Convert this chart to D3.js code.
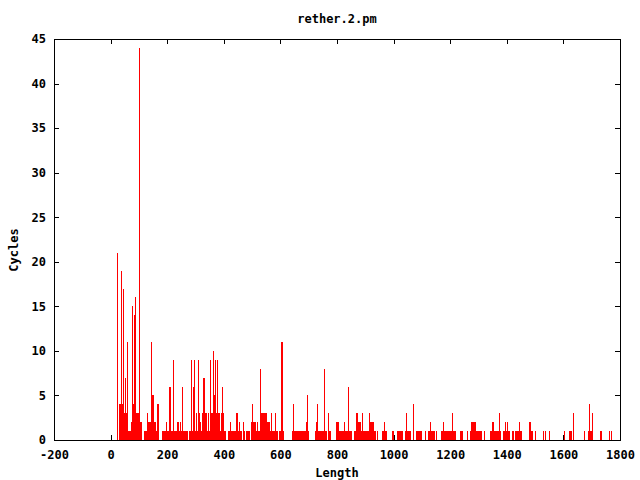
<!DOCTYPE html>
<html>
<head>
<meta charset="utf-8">
<script src="https://cdn.jsdelivr.net/npm/d3@7"></script>
<style>
  body { margin: 0; background: #fff; }
  svg { display: block; }
  text { font-family: "DejaVu Sans Mono", monospace; font-weight: bold; font-size: 12px; fill: #000; }
</style>
</head>
<body>
<div id="chart"></div>
<script>
// Data: message length and cycles.
var lengths = [
  23, 30, 33, 37, 40, 44, 47, 51, 54, 58, 62, 65, 69, 72, 76, 79, 83, 86, 90, 93, 97, 100, 104, 107,
  118, 122, 125, 129, 132, 136, 139, 143, 146, 150, 153, 157, 160, 164, 168,
  182, 185, 189, 192, 196, 199, 203, 206, 210, 214, 217, 221, 224, 228, 231, 235, 238, 242, 245, 249,
  252, 256, 260, 263, 267, 270, 277, 281, 284, 288, 291, 295, 298, 302, 305, 309, 313, 316, 320, 323,
  327, 330, 334, 337, 341, 344, 348, 351, 355, 358, 362, 366, 369, 373, 376, 380, 383, 387, 390, 394,
  397, 401, 404, 415, 419, 422, 426, 429, 433, 436, 440, 443, 447, 450, 454, 457, 461, 468, 472,
  479, 482, 486, 489, 496, 500, 503, 507, 510, 514, 518, 521, 525, 528, 532, 535, 539, 542, 546, 549,
  553, 556, 560, 563, 567, 571, 574, 578, 581, 585, 588, 595, 599, 602, 606, 609,
  641, 645, 648, 652, 655, 659, 662, 666, 670, 673, 677, 680, 684, 687, 691, 694, 698,
  723, 726, 730, 733, 737, 740, 744, 747, 751, 754, 758, 761, 769, 772, 776,
  797, 800, 804, 807, 811, 815, 818, 822, 825, 829, 832, 836, 839, 843, 846, 850,
  860, 864, 868, 871, 875, 878, 882, 885, 889, 892, 896, 899, 903, 906, 910, 913, 917, 921, 924, 928,
  931, 935, 942, 959, 963, 966, 970, 974, 995, 998,
  1012, 1016, 1020, 1023, 1027, 1030, 1041, 1044, 1048, 1051, 1055, 1058, 1069,
  1080, 1083, 1087, 1090, 1094, 1097, 1111, 1122, 1126, 1129, 1133, 1136, 1140, 1143, 1150,
  1168, 1171, 1175, 1179, 1182, 1186, 1189, 1193, 1196, 1200, 1203, 1207, 1210, 1214, 1217,
  1235, 1239, 1242, 1260, 1270, 1274, 1278, 1281, 1285, 1288, 1292, 1295, 1299, 1302, 1306, 1309, 1320,
  1341, 1345, 1348, 1352, 1355, 1359, 1362, 1366, 1369, 1373, 1376,
  1387, 1391, 1394, 1398, 1401, 1405, 1408, 1419, 1422, 1430, 1433, 1437, 1440, 1444, 1447, 1451,
  1479, 1483, 1486, 1490, 1500, 1528, 1536, 1550,
  1603, 1620, 1624, 1627, 1634, 1673, 1688, 1691, 1695, 1698, 1702, 1730, 1733, 1762, 1769
];
var cycles = [
  21, 4, 4, 19, 4, 17, 3, 7, 3, 11, 1, 1, 1, 2, 15, 4, 14, 16, 3, 3, 3, 44, 2, 2,
  1, 1, 1, 3, 2, 2, 2, 11, 5, 5, 2, 2, 1, 4, 4,
  1, 1, 1, 1, 2, 1, 1, 6, 6, 1, 1, 9, 1, 1, 1, 2, 2, 1, 2, 1,
  6, 1, 1, 1, 1, 1, 1, 1, 9, 1, 6, 9, 1, 3, 1, 9, 3, 2, 1, 3,
  7, 7, 3, 3, 1, 3, 1, 9, 3, 3, 10, 5, 9, 3, 9, 3, 3, 1, 3, 6,
  3, 1, 1, 1, 1, 2, 1, 1, 1, 1, 1, 3, 3, 1, 2, 1, 1, 2, 1,
  1, 1, 1, 1, 2, 4, 2, 2, 2, 1, 2, 1, 1, 8, 3, 3, 3, 3, 3, 3,
  2, 2, 2, 1, 3, 1, 1, 1, 3, 1, 1, 1, 1, 11, 11, 1,
  1, 4, 1, 1, 1, 1, 1, 1, 1, 1, 1, 1, 1, 1, 2, 5, 1,
  1, 2, 4, 1, 1, 1, 1, 1, 1, 8, 1, 1, 3, 1, 1,
  2, 2, 2, 1, 1, 1, 1, 1, 2, 1, 1, 1, 6, 1, 1, 1,
  1, 1, 3, 3, 2, 2, 2, 1, 3, 1, 1, 1, 1, 1, 1, 3, 2, 2, 2, 2,
  1, 1, 1, 1, 1, 2, 1, 1, 1, 1,
  1, 1, 1, 1, 1, 1, 1, 3, 1, 1, 1, 1, 4,
  1, 1, 1, 1, 1, 1, 1, 1, 1, 2, 1, 1, 1, 1, 1,
  1, 1, 2, 1, 1, 1, 1, 1, 1, 1, 1, 3, 1, 1, 1,
  1, 1, 1, 1, 1, 2, 2, 2, 2, 2, 1, 1, 1, 1, 1, 1, 1,
  1, 1, 2, 2, 1, 1, 1, 1, 1, 3, 1,
  1, 1, 2, 1, 2, 1, 1, 1, 1, 1, 1, 1, 1, 2, 1, 1,
  2, 2, 1, 1, 1, 1, 1, 1,
  1, 1, 1, 1, 3, 1, 1, 4, 1, 1, 3, 1, 1, 1, 1
];
var xTicks = [-200, 0, 200, 400, 600, 800, 1000, 1200, 1400, 1600, 1800];
var yTicks = [0, 5, 10, 15, 20, 25, 30, 35, 40, 45];

var svgWidth = 640,
    svgHeight = 480,
    plotLeft = 54,
    plotRight = 620,
    plotTop = 39,
    plotBottom = 440,
    tickLength = 5;

var data = [];
for (i = 0; i < lengths.length; i++)
  data.push([lengths[i], cycles[i]]);

var x = d3.scaleLinear().domain([-200, 1800]).range([plotLeft, plotRight]);
var y = d3.scaleLinear().domain([0, 45]).range([plotBottom, plotTop]);
var plain = function(d){ return "" + d; };

// SVG.
var svg = d3.select("#chart").append("svg")
  .attr("width", svgWidth)
  .attr("height", svgHeight);

// TICKS (all four sides, pointing in).
svg.append("g")
  .attr("transform", "translate(0," + plotBottom + ")")
  .call(d3.axisBottom(x).tickValues(xTicks).tickSize(-tickLength).tickPadding(10).tickFormat(plain))
  .call(function(g){ g.select(".domain").remove(); });
svg.append("g")
  .attr("transform", "translate(0," + plotTop + ")")
  .call(d3.axisTop(x).tickValues(xTicks).tickSize(-tickLength).tickFormat(""))
  .call(function(g){ g.select(".domain").remove(); });
svg.append("g")
  .attr("transform", "translate(" + plotLeft + ",0)")
  .call(d3.axisLeft(y).tickValues(yTicks).tickSize(-tickLength).tickPadding(8).tickFormat(plain))
  .call(function(g){ g.select(".domain").remove(); });
svg.append("g")
  .attr("transform", "translate(" + plotRight + ",0)")
  .call(d3.axisRight(y).tickValues(yTicks).tickSize(-tickLength).tickFormat(""))
  .call(function(g){ g.select(".domain").remove(); });

svg.selectAll(".tick line")
  .attr("stroke", "#000")
  .attr("shape-rendering", "crispEdges");
svg.selectAll("g")
  .attr("font-family", null)
  .attr("font-size", null);

// IMPULSES (1px wide columns).
svg.append("g")
  .attr("id", "impulses")
  .selectAll("rect")
  .data(data).enter()
  .append("rect")
  .attr("x", function(d){ return Math.round(x(d[0])); })
  .attr("width", 1)
  .attr("y", function(d){ return Math.round(y(d[1])); })
  .attr("height", function(d){ return plotBottom - Math.round(y(d[1])); })
  .attr("fill", "#ff0000");

// BORDER.
svg.append("rect")
  .attr("x", plotLeft + 0.5)
  .attr("y", plotTop + 0.5)
  .attr("width", plotRight - plotLeft)
  .attr("height", plotBottom - plotTop)
  .attr("fill", "none")
  .attr("stroke", "#000")
  .attr("shape-rendering", "crispEdges");

// LABELS.
svg.append("text")
  .attr("x", (plotLeft + plotRight) / 2)
  .attr("y", 23)
  .attr("text-anchor", "middle")
  .text("rether.2.pm");

svg.append("text")
  .attr("x", (plotLeft + plotRight) / 2)
  .attr("y", 477)
  .attr("text-anchor", "middle")
  .text("Length");

svg.append("text")
  .attr("transform", "translate(18,250) rotate(-90)")
  .attr("text-anchor", "middle")
  .text("Cycles");
</script>
</body>
</html>
